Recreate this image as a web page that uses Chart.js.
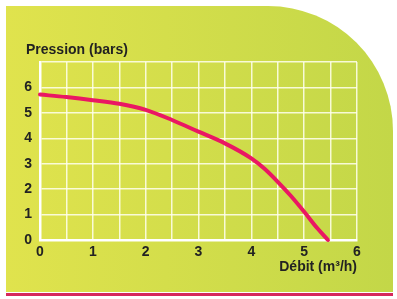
<!DOCTYPE html>
<html lang="fr">
<head>
  <meta charset="UTF-8">
  <title>Pression / Débit</title>
  <script src="https://cdn.jsdelivr.net/npm/chart.js"></script>
  <style>
    body {
      margin: 0;
      background: #fff;
      width: 397px;
      height: 299px;
      overflow: hidden;
      position: relative;
    }
    .panel {
      position: absolute;
      left: 6px;
      top: 6px;
      width: 387px;
      height: 286px;
      border-top-right-radius: 125px;
      background: linear-gradient(to right, #e0e34d, #c3d748);
    }
    .redline {
      position: absolute;
      left: 6px;
      top: 293px;
      width: 387px;
      height: 3px;
      background: #d6285c;
    }
    #chart {
      position: absolute;
      left: 0;
      top: 0;
    }
  </style>
</head>
<body>

<div class="panel"></div>
<div class="redline"></div>
<canvas id="chart" width="397" height="299"></canvas>

<script>
  // courbe pression / débit
  const debit = [0, 0.5, 1, 1.5, 2, 2.5, 3, 3.5, 4, 4.25, 4.5, 4.75, 5, 5.25, 5.45];
  const pression = [5.72, 5.62, 5.5, 5.36, 5.12, 4.72, 4.26, 3.8, 3.21, 2.8, 2.29, 1.73, 1.11, 0.46, 0];

  const xTicks = [0, 1, 2, 3, 4, 5, 6];
  const yTicks = [0, 1, 2, 3, 4, 5, 6];

  const FONT = 'Liberation Sans, Arial, sans-serif';
  const gridColor = 'rgba(255, 255, 240, 0.85)';

  const points = debit.map((d, i) => ({ x: d, y: pression[i] }));

  // titre de l'axe vertical, en haut a gauche
  const yTitle = {
    id: 'yTitle',
    afterDraw(chart) {
      const ctx = chart.ctx;
      ctx.save();
      ctx.font = 'bold 14px ' + FONT;
      ctx.fillStyle = '#222';
      ctx.textAlign = 'left';
      ctx.textBaseline = 'middle';
      ctx.fillText('Pression (bars)', 26, 50);
      ctx.restore();
    }
  };

  new Chart(document.getElementById('chart'), {
    type: 'line',
    data: {
      datasets: [{
        data: points,
        borderColor: '#ea1763',
        borderWidth: 4,
        borderCapStyle: 'round',
        pointRadius: 0,
        cubicInterpolationMode: 'monotone',
        fill: false,
        clip: false
      }]
    },
    options: {
      responsive: false,
      devicePixelRatio: 1,
      animation: false,
      layout: {
        padding: { left: 0, right: 40, top: 62, bottom: 0 }
      },
      plugins: {
        legend: { display: false },
        tooltip: { enabled: false }
      },
      scales: {
        x: {
          type: 'linear',
          min: 0,
          max: 6,
          afterFit: (scale) => { scale.height = 59; },
          grid: { color: gridColor, lineWidth: 1.5, drawTicks: false },
          border: { color: '#fff', width: 2.5 },
          ticks: {
            stepSize: 0.5,
            autoSkip: false,
            maxRotation: 0,
            padding: 3.5,
            color: '#222',
            font: { family: FONT, size: 14, weight: 'bold' },
            callback: (v) => xTicks.includes(v) ? String(v) : ''
          },
          title: {
            display: true,
            text: 'Débit (m³/h)',
            align: 'end',
            color: '#222',
            font: { family: FONT, size: 14, weight: 'bold', lineHeight: 1.2 },
            padding: { top: 0, bottom: 23.6 }
          }
        },
        y: {
          min: 0,
          max: 7,
          afterFit: (scale) => { scale.width = 40; },
          grid: { color: gridColor, lineWidth: 1.5, drawTicks: false },
          border: { color: '#fff', width: 2.5 },
          ticks: {
            stepSize: 1,
            autoSkip: false,
            padding: 8,
            color: '#222',
            font: { family: FONT, size: 14, weight: 'bold' },
            callback: (v) => yTicks.includes(v) ? String(v) : ''
          }
        }
      }
    },
    plugins: [yTitle]
  });
</script>

</body>
</html>
